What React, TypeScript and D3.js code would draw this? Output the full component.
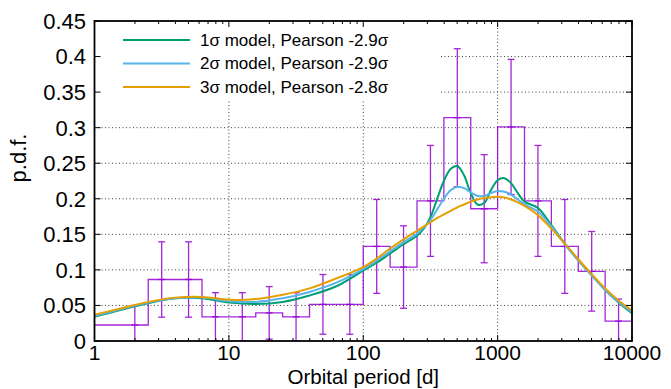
import React from "react";
import * as d3 from "d3";

// ---- Data ----
// Histogram bins (log10 period edges) and p.d.f. values
const binLo = [0.0, 0.2, 0.4, 0.6, 0.8, 1.0, 1.2, 1.4, 1.6, 1.8, 2.0, 2.2, 2.4, 2.6, 2.8, 3.0, 3.2, 3.4, 3.6, 3.8];
const binVal = [0.0225, 0.0225, 0.0865, 0.0865, 0.034, 0.034, 0.0395, 0.034, 0.0515, 0.0515, 0.133, 0.104, 0.197, 0.314, 0.186, 0.301, 0.197, 0.133, 0.098, 0.028];
const binErr = [null, 0.027, 0.053, 0.053, 0.034, 0.034, 0.037, 0.034, 0.042, 0.042, 0.066, 0.058, 0.078, 0.097, 0.076, 0.095, 0.078, 0.066, 0.056, 0.031];

// Model curves sampled on log10(P)
const curveLogP = [0, 0.2, 0.4, 0.6, 0.8, 1.0, 1.2, 1.4, 1.6, 1.8, 2.0, 2.1, 2.2, 2.3, 2.4, 2.45, 2.5, 2.55, 2.6, 2.65, 2.7, 2.75, 2.8, 2.85, 2.9, 2.95, 3.0, 3.05, 3.1, 3.15, 3.2, 3.3, 3.4, 3.5, 3.6, 3.7, 3.8, 3.9, 4.0];
const model1 = [0.034, 0.044, 0.053, 0.060, 0.060, 0.054, 0.052, 0.055, 0.064, 0.077, 0.099, 0.110, 0.123, 0.136, 0.148, 0.158, 0.174, 0.200, 0.225, 0.242, 0.246, 0.233, 0.208, 0.192, 0.194, 0.212, 0.226, 0.229, 0.222, 0.208, 0.196, 0.187, 0.163, 0.137, 0.114, 0.093, 0.072, 0.054, 0.039];
const model2 = [0.035, 0.045, 0.054, 0.060, 0.061, 0.056, 0.055, 0.060, 0.069, 0.082, 0.101, 0.113, 0.126, 0.139, 0.151, 0.160, 0.170, 0.185, 0.200, 0.212, 0.217, 0.215, 0.209, 0.204, 0.204, 0.208, 0.211, 0.210, 0.206, 0.199, 0.192, 0.182, 0.161, 0.136, 0.113, 0.092, 0.072, 0.055, 0.041];
const model3 = [0.037, 0.046, 0.055, 0.061, 0.062, 0.058, 0.059, 0.065, 0.074, 0.088, 0.104, 0.116, 0.130, 0.143, 0.155, 0.161, 0.167, 0.173, 0.178, 0.183, 0.188, 0.192, 0.196, 0.199, 0.201, 0.202, 0.203, 0.202, 0.199, 0.195, 0.190, 0.177, 0.158, 0.137, 0.115, 0.094, 0.074, 0.057, 0.043];

const seriesNames = ["1σ model, Pearson -2.9σ", "2σ model, Pearson -2.9σ", "3σ model, Pearson -2.8σ"];
const seriesColors = ["#009e73", "#56b4e9", "#e69f00"];

const yTicks = [0, 0.05, 0.1, 0.15, 0.2, 0.25, 0.3, 0.35, 0.4, 0.45];
const xTicks = [1, 10, 100, 1000, 10000];

const W = 671, H = 389;
const L = 94.5, R = 632, T = 21, B = 341;
const FONT = "'Liberation Sans', Arial, sans-serif";
const PURPLE = "#9400d3";

export default function App() {
  const x = d3.scaleLog().domain([1, 10000]).range([L, R]);
  const y = d3.scaleLinear().domain([0, 0.45]).range([B, T]);
  const xl = (lp: number) => x(Math.pow(10, lp));

  const minor: number[] = [];
  for (let e = 0; e < 4; e++) for (let m = 2; m <= 9; m++) minor.push(m * Math.pow(10, e));

  const models = [model1, model2, model3];
  const line = d3
    .line<number>()
    .x((_, i) => xl(curveLogP[i]))
    .y((d) => y(d))
    .curve(d3.curveCatmullRom.alpha(0.5));

  // histogram step path
  let hist = "";
  binLo.forEach((lo, i) => {
    const x0 = xl(lo), x1 = xl(lo + 0.2), yy = y(binVal[i]);
    hist += (i === 0 ? `M${x0},${yy}` : `L${x0},${yy}`) + `L${x1},${yy}`;
  });

  const keyBox = { x: L + 1, y: T + 1, w: 439 - L - 1, h: 101 - T - 1 };
  const keyRows = [40, 63.5, 87];

  return (
    <svg width={W} height={H} style={{ display: "block", position: "absolute", left: 0, top: 0 }} fontFamily={FONT}>
      <rect x={0} y={0} width={W} height={H} fill="#fff" />
      <defs>
        <clipPath id="plot">
          <rect x={L} y={T} width={R - L} height={B - T} />
        </clipPath>
      </defs>
      {/* grid */}
      <g stroke="#000" strokeWidth={1} strokeDasharray="1,2.5" opacity={0.75}>
        {yTicks.slice(1, -1).map((t) => (
          <line key={"gy" + t} x1={L} x2={R} y1={y(t)} y2={y(t)} />
        ))}
        {xTicks.slice(1, -1).map((t) => (
          <line key={"gx" + t} x1={x(t)} x2={x(t)} y1={T} y2={B} />
        ))}
      </g>
      {/* key background */}
      <rect x={keyBox.x} y={keyBox.y} width={keyBox.w} height={keyBox.h} fill="#fff" />

      <g clipPath="url(#plot)">
        {/* histogram */}
        <path d={hist} fill="none" stroke={PURPLE} strokeWidth={1.3} opacity={0.85} />
        {/* error bars */}
        {binLo.map((lo, i) => {
          const e = binErr[i];
          if (e == null) return null;
          const cx = xl(lo + 0.1);
          const v = binVal[i];
          return (
            <g key={"eb" + i} stroke={PURPLE} strokeWidth={1.3} opacity={0.85}>
              <line x1={cx} x2={cx} y1={y(v + e)} y2={y(v - e)} />
              <line x1={cx - 3.5} x2={cx + 3.5} y1={y(v + e)} y2={y(v + e)} />
              <line x1={cx - 3.5} x2={cx + 3.5} y1={y(v - e)} y2={y(v - e)} />
              <line x1={cx - 3.5} x2={cx + 3.5} y1={y(v)} y2={y(v)} />
            </g>
          );
        })}
        {/* models */}
        {models.map((m, k) => (
          <path key={"m" + k} d={line(m) || ""} fill="none" stroke={seriesColors[k]} strokeWidth={2} />
        ))}
      </g>

      {/* key */}
      {seriesNames.map((n, k) => (
        <g key={"k" + k}>
          <line x1={123} x2={190} y1={keyRows[k]} y2={keyRows[k]} stroke={seriesColors[k]} strokeWidth={2} />
          <text x={200} y={keyRows[k]} dy="0.35em" fontSize={17} fill="#000">
            {n}
          </text>
        </g>
      ))}

      {/* ticks */}
      <g stroke="#000" strokeWidth={1}>
        {yTicks.map((t) => (
          <g key={"ty" + t}>
            <line x1={L} x2={L + 6} y1={y(t)} y2={y(t)} />
            <line x1={R} x2={R - 6} y1={y(t)} y2={y(t)} />
          </g>
        ))}
        {xTicks.map((t) => (
          <g key={"tx" + t}>
            <line x1={x(t)} x2={x(t)} y1={B} y2={B - 6} />
            <line x1={x(t)} x2={x(t)} y1={T} y2={T + 6} />
          </g>
        ))}
        {minor.map((t) => (
          <g key={"mx" + t}>
            <line x1={x(t)} x2={x(t)} y1={B} y2={B - 3} />
            <line x1={x(t)} x2={x(t)} y1={T} y2={T + 3} />
          </g>
        ))}
      </g>
      {/* frame */}
      <rect x={L} y={T} width={R - L} height={B - T} fill="none" stroke="#000" strokeWidth={1.8} />

      {/* tick labels */}
      {yTicks.map((t) => (
        <text key={"ly" + t} x={86} y={y(t)} dy="0.36em" textAnchor="end" fontSize={22} fill="#000">
          {String(t)}
        </text>
      ))}
      {xTicks.map((t) => (
        <text key={"lx" + t} x={x(t)} y={359.5} textAnchor="middle" fontSize={21} fill="#000">
          {String(t)}
        </text>
      ))}
      <text x={(L + R) / 2} y={384} textAnchor="middle" fontSize={20.5} fill="#000">
        Orbital period [d]
      </text>
      <text transform={`translate(26,158) rotate(-90)`} textAnchor="middle" fontSize={22} fill="#000">
        p.d.f.
      </text>
    </svg>
  );
}
